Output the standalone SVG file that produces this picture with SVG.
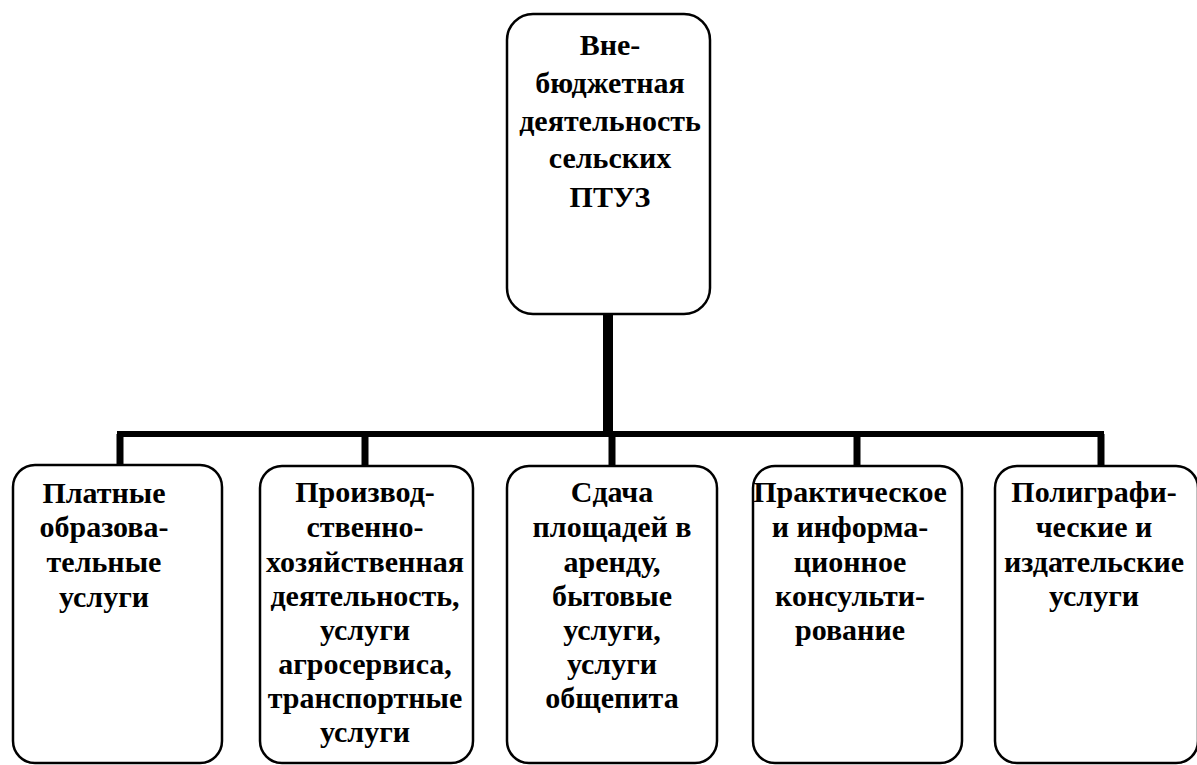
<svg xmlns="http://www.w3.org/2000/svg" width="1197" height="765" viewBox="0 0 1197 765">
<style>
.box{fill:#fff;stroke:#000;stroke-width:2.5}
.t{font-family:'Liberation Serif','DejaVu Serif','Times New Roman',serif;font-weight:700;font-size:30px;fill:#000;text-anchor:middle}
.c{stroke:#000;fill:none}
</style>
<rect width="1197" height="765" fill="#fff"/>
<g id="connectors">
<line class="c" x1="608" y1="314" x2="608" y2="434" stroke-width="10"/>
<line class="c" x1="117" y1="434" x2="1104" y2="434" stroke-width="6"/>
<line class="c" x1="120" y1="434" x2="120" y2="466" stroke-width="7"/>
<line class="c" x1="365" y1="434" x2="365" y2="466" stroke-width="7"/>
<line class="c" x1="612" y1="434" x2="612" y2="466" stroke-width="7"/>
<line class="c" x1="857" y1="434" x2="857" y2="466" stroke-width="7"/>
<line class="c" x1="1101" y1="434" x2="1101" y2="466" stroke-width="7"/>
</g>
<g id="root">
<rect class="box" x="507" y="14" width="203" height="300" rx="26"/>
<text class="t" x="610" y="55">Вне-</text>
<text class="t" x="610" y="93">бюджетная</text>
<text class="t" x="610" y="131">деятельность</text>
<text class="t" x="610" y="168">сельских</text>
<text class="t" x="610" y="207">ПТУЗ</text>
</g>
<g id="n1">
<rect class="box" x="13" y="465" width="209" height="298" rx="22"/>
<text class="t" x="104" y="503">Платные</text>
<text class="t" x="104" y="537">образова-</text>
<text class="t" x="104" y="572">тельные</text>
<text class="t" x="104" y="607">услуги</text>
</g>
<g id="n2">
<rect class="box" x="260" y="466" width="213" height="297" rx="22"/>
<text class="t" x="365" y="502">Производ-</text>
<text class="t" x="365" y="537">ственно-</text>
<text class="t" x="365" y="572">хозяйственная</text>
<text class="t" x="365" y="606">деятельность,</text>
<text class="t" x="365" y="640">услуги</text>
<text class="t" x="365" y="674">агросервиса,</text>
<text class="t" x="365" y="708">транспортные</text>
<text class="t" x="365" y="742">услуги</text>
</g>
<g id="n3">
<rect class="box" x="507" y="466" width="210" height="297" rx="22"/>
<text class="t" x="612" y="502">Сдача</text>
<text class="t" x="612" y="537">площадей в</text>
<text class="t" x="612" y="572">аренду,</text>
<text class="t" x="612" y="606">бытовые</text>
<text class="t" x="612" y="640">услуги,</text>
<text class="t" x="612" y="674">услуги</text>
<text class="t" x="612" y="708">общепита</text>
</g>
<g id="n4">
<rect class="box" x="753" y="466" width="209" height="297" rx="22"/>
<text class="t" x="850" y="502">Практическое</text>
<text class="t" x="850" y="537">и информа-</text>
<text class="t" x="850" y="572">ционное</text>
<text class="t" x="850" y="606">консульти-</text>
<text class="t" x="850" y="640">рование</text>
</g>
<g id="n5">
<rect class="box" x="995" y="466" width="203" height="297" rx="22"/>
<text class="t" x="1094" y="502">Полиграфи-</text>
<text class="t" x="1094" y="537">ческие и</text>
<text class="t" x="1094" y="572">издательские</text>
<text class="t" x="1094" y="606">услуги</text>
</g>
</svg>
